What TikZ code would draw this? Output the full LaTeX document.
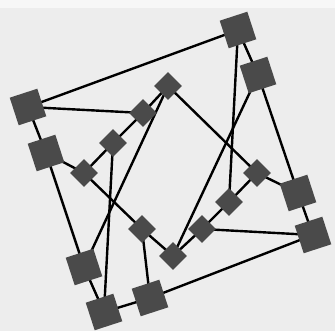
\documentclass[tikz,border=0pt]{standalone}
\usetikzlibrary{backgrounds}
\definecolor{sqfill}{HTML}{4A4A4A}
\definecolor{paper}{HTML}{EDEDED}
\definecolor{paperlight}{HTML}{F7F7F7}
\tikzset{
  bigsq/.style={fill=sqfill, draw=none, minimum size=29pt, inner sep=0pt, rotate=18, shape=rectangle},
  smallsq/.style={fill=sqfill, draw=none, minimum size=19.5pt, inner sep=0pt, rotate=45, shape=rectangle},
  edge/.style={draw=black, line width=2.4pt}
}
\begin{document}
\begin{tikzpicture}[x=1pt,y=1pt]
\useasboundingbox (0,0) rectangle (335,331);
% large squares
\node[bigsq] (A) at (238,301) {};
\node[bigsq] (B) at (258,256) {};
\node[bigsq] (C) at (28,224) {};
\node[bigsq] (D) at (46,178) {};
\node[bigsq] (E) at (84,64) {};
\node[bigsq] (F) at (104,19) {};
\node[bigsq] (G) at (150,33) {};
\node[bigsq] (H) at (298,138) {};
\node[bigsq] (I) at (313,96) {};
% small squares
\node[smallsq] (a) at (168,245) {};
\node[smallsq] (b) at (143,218) {};
\node[smallsq] (c) at (113,188) {};
\node[smallsq] (d) at (84,158) {};
\node[smallsq] (e) at (142,102) {};
\node[smallsq] (f) at (173,75) {};
\node[smallsq] (g) at (202,102) {};
\node[smallsq] (h) at (229,129) {};
\node[smallsq] (k) at (257,158) {};
\begin{scope}[on background layer]
\fill[paper] (0,0) rectangle (335,331);
\fill[paperlight] (0,323) rectangle (335,331);
\draw[edge] (A.center) -- (C.center);
\draw[edge] (A.center) -- (B.center);
\draw[edge] (B.center) -- (H.center);
\draw[edge] (H.center) -- (I.center);
\draw[edge] (I.center) -- (G.center);
\draw[edge] (G.center) -- (F.center);
\draw[edge] (F.center) -- (E.center);
\draw[edge] (E.center) -- (D.center);
\draw[edge] (D.center) -- (C.center);
\draw[edge] (C.center) -- (b.center);
\draw[edge] (a.center) -- (b.center);
\draw[edge] (b.center) -- (c.center);
\draw[edge] (c.center) -- (d.center);
\draw[edge] (d.center) -- (D.center);
\draw[edge] (d.center) -- (e.center);
\draw[edge] (e.center) -- (f.center);
\draw[edge] (e.center) -- (G.center);
\draw[edge] (f.center) -- (g.center);
\draw[edge] (g.center) -- (h.center);
\draw[edge] (h.center) -- (k.center);
\draw[edge] (k.center) -- (a.center);
\draw[edge] (k.center) -- (H.center);
\draw[edge] (g.center) -- (I.center);
\draw[edge] (A.center) -- (h.center);
\draw[edge] (B.center) -- (f.center);
\draw[edge] (a.center) -- (E.center);
\draw[edge] (c.center) -- (F.center);
\end{scope}
\end{tikzpicture}
\end{document}
